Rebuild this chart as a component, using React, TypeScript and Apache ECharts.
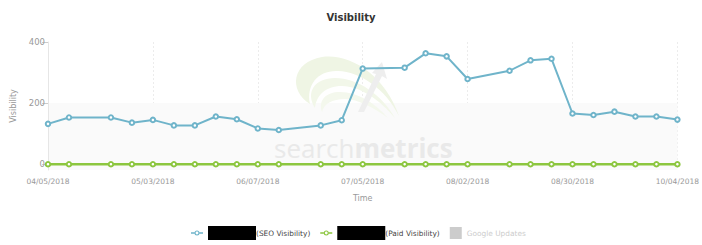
import React, { useEffect, useRef } from "react";
import * as echarts from "echarts";

const categories = [
  "04/05/2018", "04/12/2018", "04/19/2018", "04/24/2018", "04/28/2018",
  "05/03/2018", "05/10/2018", "05/17/2018", "05/24/2018", "05/31/2018",
  "06/07/2018", "06/14/2018", "06/19/2018", "06/24/2018", "06/28/2018",
  "07/05/2018", "07/12/2018", "07/19/2018", "07/26/2018", "07/29/2018",
  "08/02/2018", "08/09/2018", "08/16/2018", "08/23/2018", "08/26/2018",
  "08/30/2018", "09/06/2018", "09/13/2018", "09/20/2018", "09/27/2018",
  "10/04/2018",
];

const seoValues = [
  132, 153, null, 153, 136, 145, 127, 127, 156, 147,
  117, 112, null, 127, 144, 313, null, 316, 363, 353,
  279, null, 306, 340, 345, 166, 161, 172, 156, 156,
  146,
];

const paidValues = [
  0, 0, null, 0, 0, 0, 0, 0, 0, 0,
  0, 0, null, 0, 0, 0, null, 0, 0, 0,
  0, null, 0, 0, 0, 0, 0, 0, 0, 0,
  0,
];

const yTicks = [0, 200, 400];
const yMin = -19;
const yMax = 400;
const bandTop = 200;

const FONT = "DejaVu Sans";

const LINE_ICON =
  "path://M0,2.3h3.6v1.4h-3.6z M8.4,2.3h3.6v1.4h-3.6z " +
  "M3.5,3a2.5,2.5 0 1,0 5,0a2.5,2.5 0 1,0 -5,0z " +
  "M4.6,3a1.4,1.4 0 1,1 2.8,0a1.4,1.4 0 1,1 -2.8,0z";

echarts.graphic.registerShape(
  "logoOuter",
  echarts.graphic.extendPath(
    "M310 104 C 288 90, 292 62, 322 57 C 350 53, 385 75, 399 116 C 385 88, 360 72, 338 71 C 318 70, 306 85, 310 104 Z",
    {}
  )
);
echarts.graphic.registerShape(
  "logoMid",
  echarts.graphic.extendPath(
    "M315 108 C 305 92, 315 78, 335 78 C 358 78, 382 95, 395 118 C 380 100, 360 86, 342 86 C 325 86, 316 96, 315 108 Z",
    {}
  )
);
echarts.graphic.registerShape(
  "logoInner",
  echarts.graphic.extendPath(
    "M322 112 C 318 100, 326 92, 340 92 C 358 92, 376 104, 388 118 C 374 108, 358 99, 345 99 C 332 99, 324 104, 322 112 Z",
    {}
  )
);

export default function App() {
  const ref = useRef<HTMLDivElement>(null);

  useEffect(() => {
    if (!ref.current) return;
    const chart = echarts.init(ref.current, null, { renderer: "svg" });
    chart.setOption({
      animation: false,
      backgroundColor: "#ffffff",
      textStyle: { fontFamily: FONT },
      title: {
        text: "Visibility",
        left: "center",
        top: 7,
        textStyle: { fontFamily: FONT, fontSize: 10, fontWeight: "bold", color: "#333333" },
      },
      grid: { left: 48, right: 23.4, top: 42, bottom: 75 },
      legend: {
        left: 186,
        top: 221,
        itemWidth: 12,
        itemHeight: 14,
        itemGap: 10,
        inactiveColor: "#cccccc",
        textStyle: {
          fontFamily: FONT,
          fontSize: 7.4,
          color: "#444444",
          rich: {
            blk: { backgroundColor: "#000000", width: 48, height: 14 },
          },
        },
        formatter: (name: string) =>
          name === "Google Updates" ? name : `{blk| }(${name})`,
        data: [
          { name: "SEO Visibility", icon: LINE_ICON },
          { name: "Paid Visibility", icon: LINE_ICON },
          { name: "Google Updates", icon: "path://M0,0h10v10h-10z" },
        ],
        selected: { "Google Updates": false },
      },
      xAxis: {
        type: "category",
        data: categories,
        boundaryGap: false,
        name: "Time",
        nameLocation: "middle",
        nameGap: 24,
        nameTextStyle: { fontFamily: FONT, fontSize: 8, color: "#999999" },
        axisLine: { lineStyle: { color: "#e0e0e0" } },
        axisTick: { show: false },
        axisLabel: {
          interval: 4,
          margin: 7,
          fontFamily: FONT,
          fontSize: 7.5,
          color: "#999999",
        },
        splitLine: {
          show: true,
          interval: 4,
          lineStyle: { color: "#ececec", type: [2, 2], width: 1 },
        },
      },
      yAxis: {
        type: "value",
        min: yMin,
        max: yMax,
        name: "Visibility",
        nameLocation: "middle",
        nameGap: 29,
        nameTextStyle: { fontFamily: FONT, fontSize: 8, color: "#999999" },
        axisLine: { show: true, lineStyle: { color: "#e6e6e6" } },
        axisTick: {
          show: true,
          length: 6,
          customValues: yTicks,
          lineStyle: { color: "#cccccc" },
        },
        axisLabel: {
          customValues: yTicks,
          margin: 3,
          fontFamily: FONT,
          fontSize: 8.5,
          color: "#999999",
        },
        splitLine: { show: false },
      },
      graphic: [
        { type: "logoOuter", x: 0, y: 0, z: 2, silent: true, style: { fill: "#eff5e4" } },
        { type: "logoMid", x: 0, y: 0, z: 2, silent: true, style: { fill: "#f2f7e9" } },
        { type: "logoInner", x: 0, y: 0, z: 2, silent: true, style: { fill: "#f4f8ed" } },
        {
          type: "polygon",
          z: 2,
          silent: true,
          shape: {
            points: [
              [358, 112], [376, 74], [372, 73], [382, 62], [387, 79], [382, 76], [364, 112],
            ],
          },
          style: { fill: "#eeeeee" },
        },
        {
          type: "text",
          x: 274,
          y: 148,
          z: 2,
          silent: true,
          style: {
            text: "{a|search}{b|metrics}",
            verticalAlign: "middle",
            fill: "#e8e8e8",
            rich: {
              a: { fontFamily: "Open Sans", fontSize: 26, fill: "#e9e9e9" },
              b: { fontFamily: "Open Sans", fontSize: 26, fontWeight: "bold", fill: "#e9e9e9" },
            },
          },
        },
      ],
      series: [
        {
          name: "band",
          type: "line",
          z: 0,
          data: [],
          silent: true,
          markArea: {
            silent: true,
            z: 0,
            itemStyle: { color: "#fafafa" },
            data: [[{ yAxis: yMin }, { yAxis: bandTop }]],
          },
        },
        {
          name: "SEO Visibility",
          type: "line",
          z: 4,
          data: seoValues,
          connectNulls: true,
          symbol: "emptyCircle",
          symbolSize: 4.5,
          lineStyle: { color: "#6fb4ca", width: 2 },
          itemStyle: { color: "#6fb4ca", borderWidth: 1.3 },
        },
        {
          name: "Paid Visibility",
          type: "line",
          z: 4,
          data: paidValues,
          connectNulls: true,
          symbol: "emptyCircle",
          symbolSize: 4.5,
          lineStyle: { color: "#8cc63f", width: 2.5 },
          itemStyle: { color: "#8cc63f", borderWidth: 1.3 },
        },
        {
          name: "Google Updates",
          type: "line",
          data: [],
          itemStyle: { color: "#cccccc" },
        },
      ],
    });
    return () => chart.dispose();
  }, []);

  return (
    <div
      ref={ref}
      style={{ position: "fixed", left: 0, top: 0, width: 702, height: 245 }}
    />
  );
}
